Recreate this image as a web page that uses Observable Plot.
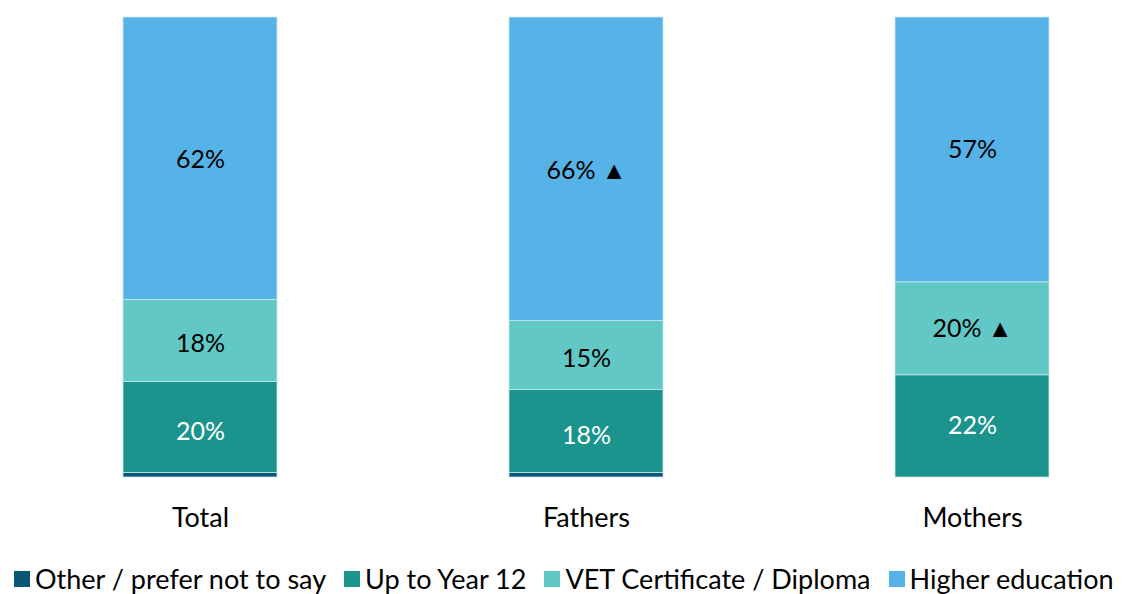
<!DOCTYPE html>
<html>
<head>
<meta charset="utf-8">
<script src="https://cdn.jsdelivr.net/npm/d3@7"></script>
<script src="https://cdn.jsdelivr.net/npm/@observablehq/plot@0.6"></script>
<style>
  html, body { margin: 0; padding: 0; background: #fff; }
  body { width: 1126px; height: 594px; overflow: hidden; font-family: Lato, "Open Sans", sans-serif; }
  #chart svg { display: block; }
  #legend { display: flex; align-items: center; height: 27px; line-height: 27px; margin-top: 20px; padding-left: 14px; font-size: 27px; color: #000; white-space: nowrap; }
  .item { display: flex; align-items: center; margin-right: 18px; }
  .sw { width: 16px; height: 16px; margin-right: 5px; }
</style>
</head>
<body>
<div id="chart"></div>
<div id="legend"></div>
<script>
const categories = ["Total", "Fathers", "Mothers"];
const seriesNames = ["Other / prefer not to say", "Up to Year 12", "VET Certificate / Diploma", "Higher education"];
const seriesColors = ["#0b5577", "#1b948d", "#62c8c6", "#56b3e8"];
const otherValues = [1, 1, 0];
const year12Values = [20, 18, 22];
const vetValues = [18, 15, 20];
const higherValues = [62, 66, 57];
const year12Up = [false, false, false];
const vetUp = [false, false, true];
const higherUp = [false, true, false];

const seriesValues = [otherValues, year12Values, vetValues, higherValues];
const seriesUp = [[false, false, false], year12Up, vetUp, higherUp];
const data = [];
seriesNames.forEach((s, si) => {
  categories.forEach((c, ci) => {
    data.push({category: c, series: s, value: seriesValues[si][ci], up: seriesUp[si][ci]});
  });
});

const stackOpts = {x: "category", y: "value", z: "series", order: seriesNames, offset: "normalize"};

const chart = Plot.plot({
  width: 1126,
  height: 545,
  marginTop: 17,
  marginBottom: 68,
  marginLeft: 123,
  marginRight: 76,
  style: {fontFamily: "Lato, 'Open Sans', sans-serif", fontSize: "27px", color: "#000", background: "#fff"},
  x: {domain: categories, paddingInner: 0.6, paddingOuter: 0, label: null, tickSize: 0, tickPadding: 30},
  y: {axis: null, domain: [0, 1]},
  color: {domain: seriesNames, range: seriesColors},
  marks: [
    Plot.barY(data, Plot.stackY({...stackOpts, fill: "series", stroke: "#c9e6ee", strokeWidth: 0.8})),
    Plot.text(data.filter(d => d.series !== seriesNames[0]), Plot.stackY({
      ...stackOpts,
      text: d => `${d.value}%` + (d.up ? " ▲" : ""),
      fill: d => d.series === "Up to Year 12" ? "#ffffff" : "#000000",
      fontSize: 25
    }))
  ]
});
document.getElementById("chart").appendChild(chart);

const legend = document.getElementById("legend");
seriesNames.forEach((s, i) => {
  const item = document.createElement("div");
  item.className = "item";
  const sw = document.createElement("span");
  sw.className = "sw";
  sw.style.background = seriesColors[i];
  const t = document.createElement("span");
  t.textContent = s;
  item.appendChild(sw);
  item.appendChild(t);
  legend.appendChild(item);
});
</script>
</body>
</html>
